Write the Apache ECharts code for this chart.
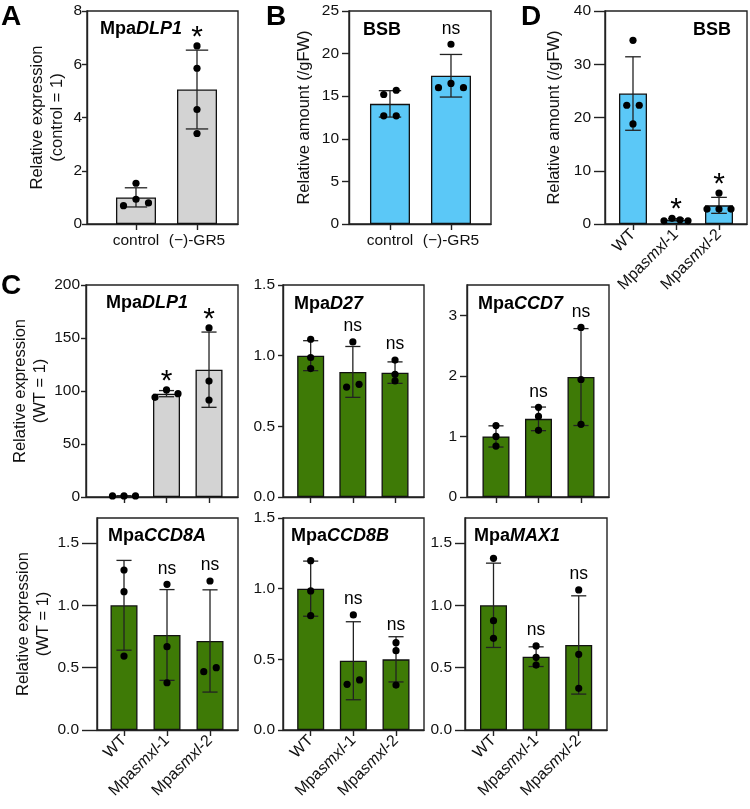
<!DOCTYPE html>
<html><head><meta charset="utf-8">
<script src="https://cdn.jsdelivr.net/npm/echarts@6/dist/echarts.min.js"></script>
<style>html,body{margin:0;padding:0;background:#fff}#c{width:750px;height:809px}</style>
</head><body><div id="c"></div>
<script>
// ---------- DATA ----------
const catsGR = ['control', '(\u2212)-GR5'];
const catsMut = ['WT', 'Mpasmxl-1', 'Mpasmxl-2'];

// Panel A: MpaDLP1 expression
const meansA = [1.0, 5.05];
const sdA = [0.36, 1.48];
const ptsA = [[1.53, 0.93, 0.79, 0.69], [6.69, 5.85, 4.30, 3.40]];
const sigA = ['', '*'];
const ticksA = [0, 2, 4, 6, 8];

// Panel B: BSB amount
const meansB = [14.1, 17.4];
const sdB = [1.55, 2.5];
const ptsB = [[15.7, 15.2, 12.7, 12.7], [21.1, 16.5, 16.0, 16.0]];
const sigB = ['', 'ns'];
const ticksB = [0, 5, 10, 15, 20, 25];

// Panel D: BSB in mutants
const meansD = [24.5, 0.8, 3.5];
const sdD = [6.9, 0.22, 1.5];
const ptsD = [[34.5, 22.3, 22.3, 18.8], [1.07, 0.8, 0.6, 0.6], [5.8, 2.8, 2.8, 2.8]];
const sigD = ['', '*', '*'];
const ticksD = [0, 10, 20, 30, 40];

// Panel C: MpaDLP1
const meansC1 = [1.0, 97.5, 120.1];
const sdC1 = [0.2, 2.9, 35.5];
const ptsC1 = [[1.0, 1.0, 1.0], [101, 97.5, 94], [159.5, 109.4, 91.5]];
const sigC1 = ['', '*', '*'];
const ticksC1 = [0, 50, 100, 150, 200];

// Panel C: MpaD27
const meansC2 = [1.0, 0.885, 0.88];
const sdC2 = [0.106, 0.18, 0.076];
const ptsC2 = [[1.116, 0.987, 0.909], [1.097, 0.797, 0.778], [0.969, 0.868, 0.821]];
const sigC2 = ['', 'ns', 'ns'];
const ticksC2 = [0, 0.5, 1.0, 1.5];

// Panel C: MpaCCD7
const meansC3 = [1.0, 1.29, 1.98];
const sdC3 = [0.175, 0.195, 0.8];
const ptsC3 = [[1.18, 1.0, 0.84], [1.48, 1.33, 1.10], [2.8, 1.94, 1.2]];
const sigC3 = ['', 'ns', 'ns'];
const ticksC3 = [0, 1, 2, 3];

// Panel C: MpaCCD8A
const meansC4 = [1.0, 0.762, 0.714];
const sdC4 = [0.36, 0.364, 0.41];
const ptsC4 = [[1.283, 1.109, 0.593], [1.168, 0.668, 0.379], [1.195, 0.50, 0.468]];
const sigC4 = ['', 'ns', 'ns'];
const ticksC4 = [0, 0.5, 1.0, 1.5];

// Panel C: MpaCCD8B
const meansC5 = [1.0, 0.49, 0.5];
const sdC5 = [0.195, 0.276, 0.16];
const ptsC5 = [[1.198, 0.984, 0.809], [0.814, 0.354, 0.323], [0.618, 0.561, 0.318]];
const sigC5 = ['', 'ns', 'ns'];
const ticksC5 = [0, 0.5, 1.0, 1.5];

// Panel C: MpaMAX1
const meansC6 = [1.0, 0.588, 0.682];
const sdC6 = [0.338, 0.079, 0.394];
const ptsC6 = [[1.377, 0.877, 0.735], [0.674, 0.583, 0.521], [1.123, 0.607, 0.334]];
const sigC6 = ['', 'ns', 'ns'];
const ticksC6 = [0, 0.5, 1.0, 1.5];

// ---------- STYLE / LAYOUT ----------
const FONT = 'Arial, "Liberation Sans", Helvetica, sans-serif';
const GREY = '#D3D3D3', BLUE = '#5BC8F7', GREEN = '#3E7A06';
const AX = '#222';

const panels = [
  {cats: catsGR, means: meansA, sd: sdA, pts: ptsA, sig: sigA, yTicks: ticksA, yMax: 8, dec: 0, lm: 5,
   grid: {left: 87, top: 11, width: 151, height: 213}, xMin: -0.803, xMax: 1.672, barW: 40, color: GREY,
   name: 'Relative expression\n(control = 1)', nameGap: 20, rot: 0,
   title: '{n|Mpa}{i|DLP1}', tLeft: 100, tTop: 20},
  {cats: catsGR, means: meansB, sd: sdB, pts: ptsB, sig: sigB, yTicks: ticksB, yMax: 25, dec: 0, lm: 10,
   grid: {left: 349, top: 11, width: 142, height: 213}, xMin: -0.672, xMax: 1.656, barW: 40, color: BLUE,
   name: 'Relative amount (/gFW)', nameGap: 35, rot: 0,
   title: '{n|BSB}', tLeft: 363, tTop: 21},
  {cats: catsMut, means: meansD, sd: sdD, pts: ptsD, sig: sigD, yTicks: ticksD, yMax: 40, dec: 0, lm: 14,
   grid: {left: 605, top: 11, width: 142, height: 213}, xMin: -0.651, xMax: 2.651, barW: 28, color: BLUE,
   name: 'Relative amount (/gFW)', nameGap: 41, rot: 45,
   title: '{n|BSB}', tLeft: 693, tTop: 21},
  {cats: catsMut, means: meansC1, sd: sdC1, pts: ptsC1, sig: sigC1, yTicks: ticksC1, yMax: 200, dec: 0, lm: 6,
   grid: {left: 86, top: 285, width: 152, height: 212}, xMin: -0.894, xMax: 2.682, barW: 27, color: GREY,
   name: 'Relative expression\n(WT = 1)', nameGap: 33, rot: 45, hideX: true,
   title: '{n|Mpa}{i|DLP1}', tLeft: 106, tTop: 294},
  {cats: catsMut, means: meansC2, sd: sdC2, pts: ptsC2, sig: sigC2, yTicks: ticksC2, yMax: 1.5, dec: 1, lm: 8,
   grid: {left: 283, top: 285, width: 141, height: 212}, xMin: -0.656, xMax: 2.687, barW: 27, color: GREEN,
   name: '', nameGap: 0, rot: 45, hideX: true,
   title: '{n|Mpa}{i|D27}', tLeft: 294, tTop: 295},
  {cats: catsMut, means: meansC3, sd: sdC3, pts: ptsC3, sig: sigC3, yTicks: ticksC3, yMax: 3.5, dec: 0, lm: 10,
   grid: {left: 467, top: 285, width: 142, height: 212}, xMin: -0.682, xMax: 2.659, barW: 27, color: GREEN,
   name: '', nameGap: 0, rot: 45, hideX: true,
   title: '{n|Mpa}{i|CCD7}', tLeft: 478, tTop: 295},
  {cats: catsMut, means: meansC4, sd: sdC4, pts: ptsC4, sig: sigC4, yTicks: ticksC4, yMax: 1.7, dec: 1, lm: 18,
   grid: {left: 97, top: 518, width: 141, height: 212}, xMin: -0.628, xMax: 2.651, barW: 27, color: GREEN,
   name: 'Relative expression\n(WT = 1)', nameGap: 42, rot: 45,
   title: '{n|Mpa}{i|CCD8A}', tLeft: 108, tTop: 527},
  {cats: catsMut, means: meansC5, sd: sdC5, pts: ptsC5, sig: sigC5, yTicks: ticksC5, yMax: 1.5, dec: 1, lm: 8,
   grid: {left: 283, top: 518, width: 141, height: 212}, xMin: -0.649, xMax: 2.656, barW: 27, color: GREEN,
   name: '', nameGap: 0, rot: 45,
   title: '{n|Mpa}{i|CCD8B}', tLeft: 291, tTop: 527},
  {cats: catsMut, means: meansC6, sd: sdC6, pts: ptsC6, sig: sigC6, yTicks: ticksC6, yMax: 1.7, dec: 1, lm: 13,
   grid: {left: 465, top: 518, width: 142, height: 212}, xMin: -0.669, xMax: 2.664, barW: 27, color: GREEN,
   name: '', nameGap: 0, rot: 45,
   title: '{n|Mpa}{i|MAX1}', tLeft: 474, tTop: 527}
];

const letters = [
  {t: 'A', left: 1, top: 3}, {t: 'B', left: 266, top: 3}, {t: 'D', left: 521, top: 3}, {t: 'C', left: 1, top: 272}
];

function catLabel(c) {
  const m = /^Mpa(smxl)(-\d)$/.exec(c);
  if (m) return '{u|Mpa}{i|' + m[1] + '}{u|' + m[2] + '}';
  return '{u|' + c + '}';
}

function swarmOffsets(ys, barW) {
  const order = ys.map((y, k) => k).sort((a, b) => ys[a] - ys[b]);
  const off = new Array(ys.length).fill(0);
  const clusters = [];
  let cur = [];
  order.forEach((k, n) => {
    if (n > 0 && ys[k] - ys[order[n - 1]] >= 6) { clusters.push(cur); cur = []; }
    cur.push(k);
  });
  if (cur.length) clusters.push(cur);
  clusters.forEach(cl => {
    const m = cl.length;
    if (m < 2) return;
    const sp = Math.min(12.5, (barW - 4) / (m - 1));
    let pattern;
    if (m === 2) pattern = [sp / 2, -sp / 2];
    else if (m === 3) pattern = [0, sp, -sp];
    else if (m === 4) pattern = [-sp / 2, sp / 2, -1.5 * sp, 1.5 * sp];
    else pattern = cl.map((_, j) => (j - (m - 1) / 2) * sp);
    cl.forEach((k, j) => { off[k] = pattern[j]; });
  });
  return off;
}

const option = {
  animation: false,
  backgroundColor: '#fff',
  textStyle: {fontFamily: FONT},
  title: [], grid: [], xAxis: [], yAxis: [], series: []
};

letters.forEach(L => option.title.push({
  text: L.t, left: L.left, top: L.top, padding: 0,
  textStyle: {fontFamily: FONT, fontSize: 28, fontWeight: 'bold', color: '#000'}
}));

panels.forEach((p, i) => {
  const idx = p.cats.map((c, j) => j);
  option.grid.push(Object.assign({show: true, borderColor: AX, borderWidth: 1.4, backgroundColor: 'transparent'}, p.grid));
  option.title.push({
    text: p.title, left: p.tLeft, top: p.tTop, padding: 0,
    textStyle: {fontFamily: FONT, rich: {
      n: {fontFamily: FONT, fontSize: 18, fontWeight: 'bold', color: '#000'},
      i: {fontFamily: FONT, fontSize: 18, fontWeight: 'bold', fontStyle: 'italic', color: '#000'}
    }}
  });
  const fs = p.rot ? 16 : 15.5;
  option.xAxis.push({
    gridIndex: i, type: 'value', min: p.xMin, max: p.xMax,
    splitLine: {show: false},
    axisLine: {show: true, onZero: false, lineStyle: {color: AX, width: 1.4}},
    axisTick: {show: true, customValues: idx, length: 6, lineStyle: {color: AX, width: 1.4}},
    axisLabel: {
      show: !p.hideX, customValues: idx, rotate: p.rot, margin: p.rot ? 8 : 9,
      formatter: v => catLabel(p.cats[Math.round(v)]),
      rich: {
        u: {fontFamily: FONT, fontSize: fs, color: '#111'},
        i: {fontFamily: FONT, fontSize: fs, fontStyle: 'italic', color: '#111'}
      }
    }
  });
  option.yAxis.push({
    gridIndex: i, type: 'value', min: 0, max: p.yMax,
    splitLine: {show: false},
    axisLine: {show: true, onZero: false, lineStyle: {color: AX, width: 1.4}},
    axisTick: {show: true, customValues: p.yTicks, length: Math.max(5, p.lm - 3), lineStyle: {color: AX, width: 1.4}},
    axisLabel: {customValues: p.yTicks, margin: p.lm, fontFamily: FONT, fontSize: 15.5, color: '#111',
      formatter: v => Number(v).toFixed(p.dec)},
    name: p.name, nameLocation: 'middle', nameGap: p.nameGap, nameRotate: 90,
    nameTextStyle: {fontFamily: FONT, fontSize: 16.5, color: '#111', lineHeight: 20, align: 'center'}
  });
  // bars
  option.series.push({
    type: 'bar', xAxisIndex: i, yAxisIndex: i, silent: true,
    data: p.means.map((m, j) => [j, m]), barWidth: p.barW,
    itemStyle: {color: p.color, borderColor: '#111', borderWidth: 1.3}, z: 2
  });
  // error bars
  option.series.push({
    type: 'custom', xAxisIndex: i, yAxisIndex: i, silent: true, z: 3,
    data: p.means.map((m, j) => [j, m, p.sd[j]]),
    renderItem: (params, api) => {
      const x = api.value(0), m = api.value(1), s = api.value(2);
      const t = api.coord([x, m + s]), b = api.coord([x, m - s]);
      const hw = p.barW * 0.28;
      const st = {stroke: '#222', lineWidth: 1.3};
      return {type: 'group', children: [
        {type: 'line', shape: {x1: t[0], y1: t[1], x2: b[0], y2: b[1]}, style: st},
        {type: 'line', shape: {x1: t[0] - hw, y1: t[1], x2: t[0] + hw, y2: t[1]}, style: st},
        {type: 'line', shape: {x1: b[0] - hw, y1: b[1], x2: b[0] + hw, y2: b[1]}, style: st}
      ]};
    }
  });
  // individual points
  option.series.push({
    type: 'custom', xAxisIndex: i, yAxisIndex: i, silent: true, z: 4,
    data: p.pts.map((arr, j) => [j, Math.max.apply(null, arr)]),
    renderItem: (params, api) => {
      const j = params.dataIndex, x = api.value(0);
      const arr = p.pts[j];
      const cs = arr.map(v => api.coord([x, v]));
      const off = swarmOffsets(cs.map(c => c[1]), p.barW);
      return {type: 'group', children: cs.map((c, k) => ({
        type: 'circle', shape: {cx: c[0] + off[k], cy: c[1], r: 3.6}, style: {fill: '#000'}
      }))};
    }
  });
  // significance labels
  option.series.push({
    type: 'custom', xAxisIndex: i, yAxisIndex: i, silent: true, z: 5,
    data: p.means.map((m, j) => [j, Math.max(m + p.sd[j], Math.max.apply(null, p.pts[j]))]),
    renderItem: (params, api) => {
      const j = params.dataIndex, s = p.sig[j];
      if (!s) return null;
      const x = api.value(0);
      const capY = api.coord([x, p.means[j] + p.sd[j]])[1];
      const ptY = api.coord([x, Math.max.apply(null, p.pts[j])])[1] - 3.5;
      const top = Math.min(capY, ptY);
      const star = s === '*';
      return {type: 'text', x: api.coord([x, 0])[0], y: top - (star ? 5 : 12),
        style: {text: s, fontFamily: FONT, fontSize: star ? 30 : 17.5, fill: '#000',
          textAlign: 'center', textVerticalAlign: 'middle'}};
    }
  });
});

const chart = echarts.init(document.getElementById('c'), null, {renderer: 'canvas'});
chart.setOption(option);
</script>
</body></html>
